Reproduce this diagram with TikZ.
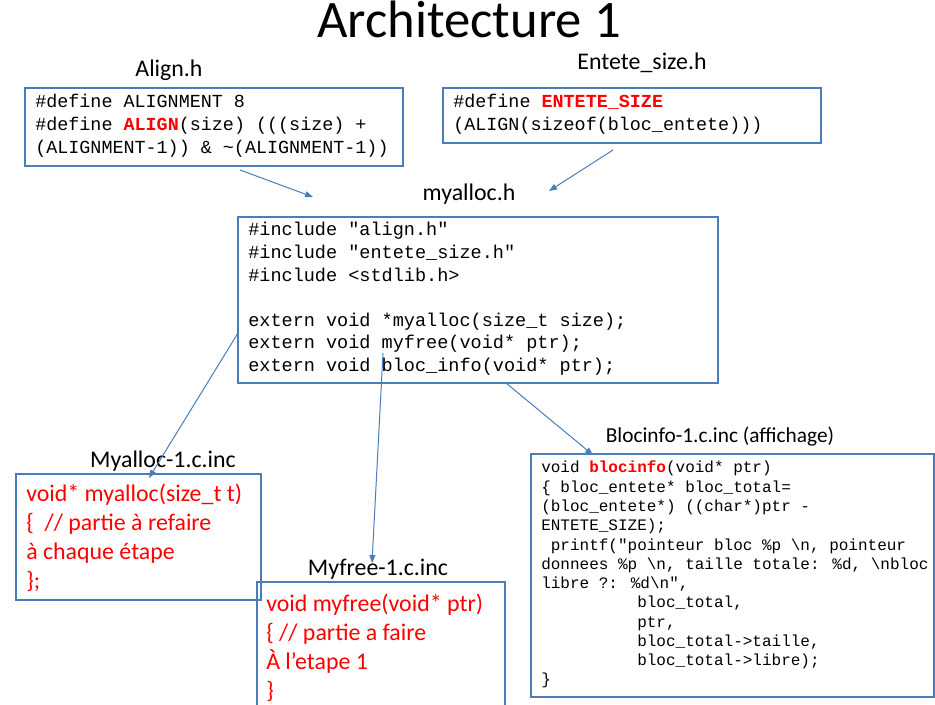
\documentclass[tikz,border=0pt]{standalone}
\usepackage{fontspec}
\setmainfont{Carlito}
\newfontfamily\codefont{Liberation Mono}
\usetikzlibrary{arrows.meta,fit}
\definecolor{boxblue}{RGB}{74,126,187}
\definecolor{codered}{RGB}{255,0,0}
\newcommand{\hl}[1]{\textbf{\textcolor{codered}{#1}}}
\begin{document}
\begin{tikzpicture}[x=0.75pt,y=-0.75pt,
  box/.style={draw=boxblue, line width=0.8pt, inner sep=0pt},
  label/.style={anchor=base, inner sep=0pt, font=\fontsize{17.9}{21}\selectfont},
  codebig/.style={anchor=base west, inner sep=0pt, font=\codefont\fontsize{13.8}{17.25}\selectfont},
  codemid/.style={anchor=base west, inner sep=0pt, font=\codefont\fontsize{13.9}{16.9}\selectfont},
  codesmall/.style={anchor=base west, inner sep=0pt, font=\codefont\fontsize{12.0}{14.45}\selectfont},
  redtext/.style={anchor=base west, inner sep=0pt, text=codered, font=\fontsize{17.9}{21.75}\selectfont},
  arr/.style={draw=boxblue, line width=0.75pt, -{Triangle[length=6pt,width=4.5pt]}}]
\useasboundingbox (0,0) rectangle (935,705);
\fill[white] (0,0) rectangle (935,705);

% title
\node[anchor=base, inner sep=0pt, font=\fontsize{39.5}{45}\selectfont] (title) at (469,38) {Architecture 1};

% labels
\node[label] (lalign) at (169,77) {Align.h};
\node[label] (lentete) at (642,70) {Entete\_size.h};
\node[label] (lmyalloch) at (469,201) {myalloc.h};
\node[label] (lmyallocc) at (163,468) {Myalloc-1.c.inc};
\node[label] (lmyfree) at (378,575) {Myfree-1.c.inc};
\node[label, font=\fontsize{16}{19}\selectfont] (lbloc) at (720,443) {Blocinfo-1.c.inc (affichage)};

% boxes
\node[box, fit={(25,88) (403,166)}] (alignbox) {};
\node[box, fit={(443,88) (821,143)}] (entetebox) {};
\node[box, fit={(238,217) (718,383)}] (myallochbox) {};
\node[box, fit={(16,474) (261,600)}] (myalloccbox) {};
\node[box, fit={(257,582) (505,712)}] (myfreebox) {};
\node[box, fit={(531,454) (934,697)}] (blocbox) {};

% code texts
\node[codebig] (aligncode) at (35,108) {\begin{tabular}[t]{@{}l@{}}
\#define ALIGNMENT 8\\
\#define \hl{ALIGN}(size) (((size) +\\
(ALIGNMENT-1)) \& \textasciitilde(ALIGNMENT-1))
\end{tabular}};

\node[codebig] (entetecode) at (453,108) {\begin{tabular}[t]{@{}l@{}}
\#define \hl{ENTETE\_SIZE}\\
(ALIGN(sizeof(bloc\_entete)))
\end{tabular}};

\node[codemid] (myallochcode) at (248,236) {\begin{tabular}[t]{@{}l@{}}
\#include "align.h"\\
\#include "entete\_size.h"\\
\#include <stdlib.h>\\
\\
extern void *myalloc(size\_t size);\\
extern void myfree(void* ptr);\\
extern void bloc\_info(void* ptr);
\end{tabular}};

\node[codesmall] (bloccode) at (541,473) {\begin{tabular}[t]{@{}l@{}}
void \hl{blocinfo}(void* ptr)\\
\{ bloc\_entete* bloc\_total=\\
(bloc\_entete*) ((char*)ptr -\\
ENTETE\_SIZE);\\
\hspace*{0.6em}printf("pointeur bloc \%p \textbackslash n, pointeur\\
donnees \%p \textbackslash n, taille totale: \%d, \textbackslash nbloc\\
libre ?: \%d\textbackslash n",\\
\hspace*{6em}bloc\_total,\\
\hspace*{6em}ptr,\\
\hspace*{6em}bloc\_total->taille,\\
\hspace*{6em}bloc\_total->libre);\\
\}
\end{tabular}};

\node[redtext] (myalloctext) at (26,502) {\begin{tabular}[t]{@{}l@{}}
void* myalloc(size\_t t)\\
\{\ \ // partie à refaire\\
à chaque étape\\
\};
\end{tabular}};

\node[redtext] (myfreetext) at (266,611) {\begin{tabular}[t]{@{}l@{}}
void myfree(void* ptr)\\
\{ // partie a faire\\
À l’etape 1\\
\}
\end{tabular}};

% arrows
\coordinate (a1s) at (240,170);
\coordinate (a1e) at (313,197);
\coordinate (a2s) at (613,150);
\coordinate (a2e) at (549,191);
\coordinate (a3s) at (238,333);
\coordinate (a3e) at (149,478);
\coordinate (a4s) at (383,353);
\coordinate (a4e) at (372,563);
\coordinate (a5s) at (506,383);
\coordinate (a5e) at (593,455);
\draw[arr] (a1s) -- (a1e);
\draw[arr] (a2s) -- (a2e);
\draw[arr] (a3s) -- (a3e);
\draw[arr] (a4s) -- (a4e);
\draw[arr] (a5s) -- (a5e);
\end{tikzpicture}
\end{document}
